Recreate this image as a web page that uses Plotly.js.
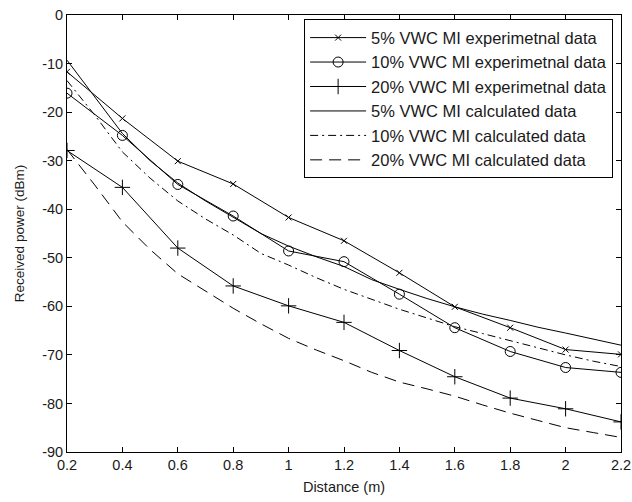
<!DOCTYPE html>
<html>
<head>
<meta charset="utf-8">
<script src="https://cdn.plot.ly/plotly-3.0.1.min.js"></script>
<style>html,body{margin:0;padding:0;background:#fff;}#chart{width:632px;height:502px;}</style>
</head>
<body>
<div id="chart"></div>
<script>
// Experimental data (0.2 m steps)
const distExp = [0.2, 0.4, 0.6, 0.8, 1.0, 1.2, 1.4, 1.6, 1.8, 2.0, 2.2];
const exp5 = [-11.7, -21.3, -30.1, -34.8, -41.7, -46.5, -53.1, -60.1, -64.4, -68.9, -69.9];
const exp10 = [-16.1, -24.8, -34.9, -41.4, -48.6, -50.8, -57.5, -64.4, -69.3, -72.6, -73.6];
const exp20 = [-27.9, -35.5, -48.0, -55.8, -59.9, -63.3, -69.1, -74.5, -78.9, -81.1, -83.8];

// Calculated data (0.1 m steps)
const distCalc = [0.2, 0.3, 0.4, 0.5, 0.6, 0.7, 0.8, 0.9, 1.0, 1.1, 1.2, 1.3, 1.4, 1.5, 1.6, 1.7, 1.8, 1.9, 2.0, 2.1, 2.2];
const calc5 = [-9.3, -16.8, -24.4, -30.0, -34.6, -38.3, -41.6, -45.0, -47.6, -49.8, -51.8, -54.5, -56.5, -58.4, -60.1, -61.6, -62.9, -64.3, -65.5, -66.8, -68.0];
const calc10 = [-13.5, -20.6, -28.2, -33.6, -38.3, -42.0, -45.3, -49.1, -51.5, -54.1, -56.5, -58.6, -60.6, -62.4, -64.2, -65.6, -67.1, -68.5, -70.0, -71.3, -72.4];
const calc20 = [-27.7, -35.0, -42.6, -48.3, -53.3, -56.9, -60.4, -63.6, -66.6, -69.0, -71.2, -73.6, -75.6, -77.0, -78.5, -80.3, -82.0, -83.5, -85.0, -86.0, -87.0];

const xTickVals = [0.2, 0.4, 0.6, 0.8, 1.0, 1.2, 1.4, 1.6, 1.8, 2.0, 2.2];
const xTickText = ['0.2', '0.4', '0.6', '0.8', '1', '1.2', '1.4', '1.6', '1.8', '2', '2.2'];
const yTickVals = [0, -10, -20, -30, -40, -50, -60, -70, -80, -90];
const yTickText = ['0', '-10', '-20', '-30', '-40', '-50', '-60', '-70', '-80', '-90'];

const names = [
  '5% VWC MI experimetnal data',
  '10% VWC MI experimetnal data',
  '20% VWC MI experimetnal data',
  '5% VWC MI calculated data',
  '10% VWC MI calculated data',
  '20% VWC MI calculated data'
];

const lineStyle = {color: '#000', width: 1};
const traces = [
  {x: distExp, y: exp5, name: names[0], mode: 'lines+markers', line: lineStyle,
   marker: {symbol: 'x-thin-open', size: 6, color: '#000', line: {color: '#000', width: 1}}},
  {x: distExp, y: exp10, name: names[1], mode: 'lines+markers', line: lineStyle,
   marker: {symbol: 'circle-open', size: 10, color: '#000', line: {color: '#000', width: 1}}},
  {x: distExp, y: exp20, name: names[2], mode: 'lines+markers', line: lineStyle,
   marker: {symbol: 'cross-thin-open', size: 11, color: '#000', line: {color: '#000', width: 1}}},
  {x: distCalc, y: calc5, name: names[3], mode: 'lines', line: {color: '#000', width: 1, dash: 'solid'}},
  {x: distCalc, y: calc10, name: names[4], mode: 'lines', line: {color: '#000', width: 1, dash: '8px,4px,2px,4px'}},
  {x: distCalc, y: calc20, name: names[5], mode: 'lines', line: {color: '#000', width: 1, dash: '12px,7px'}}
];

const font = {family: 'Liberation Sans, Arial, sans-serif', color: '#1a1a1a'};

const layout = {
  width: 632, height: 502,
  margin: {l: 67, r: 11, t: 15, b: 50},
  paper_bgcolor: '#fff', plot_bgcolor: '#fff',
  font: Object.assign({size: 14}, font),
  showlegend: true,
  xaxis: {
    range: [0.2, 2.2], tickvals: xTickVals, ticktext: xTickText,
    ticks: 'inside', ticklen: 5, tickcolor: '#000', mirror: 'allticks',
    showline: true, linecolor: '#000', linewidth: 1, showgrid: false, zeroline: false,
    tickfont: Object.assign({size: 14.5}, font),
    title: {text: 'Distance (m)', font: Object.assign({size: 14.5}, font), standoff: 9}
  },
  yaxis: {
    range: [-90, 0], tickvals: yTickVals, ticktext: yTickText,
    ticks: 'inside', ticklen: 5, tickcolor: '#000', mirror: 'allticks',
    showline: true, linecolor: '#000', linewidth: 1, showgrid: false, zeroline: false,
    tickfont: Object.assign({size: 14.5}, font),
    title: {text: 'Received power (dBm)', font: Object.assign({size: 13.5}, font), standoff: 14}
  },
  legend: {
    x: 0.428, y: 0.99, xanchor: 'left', yanchor: 'top',
    bgcolor: '#fff', bordercolor: '#000', borderwidth: 1,
    font: Object.assign({size: 16.5}, font),
    itemwidth: 56,
    tracegroupgap: 0
  }
};

Plotly.newPlot('chart', traces, layout, {displayModeBar: false, staticPlot: true});
</script>
</body>
</html>
